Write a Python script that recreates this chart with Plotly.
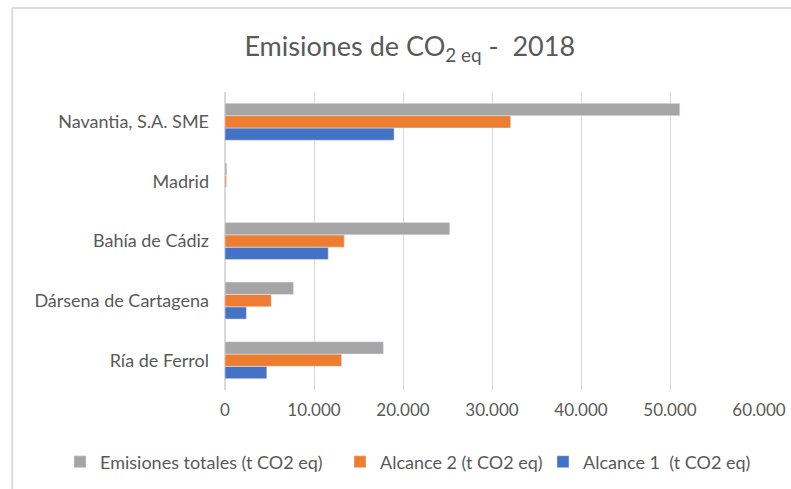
import plotly.graph_objects as go

categories = ["Ría de Ferrol", "Dársena de Cartagena", "Bahía de Cádiz", "Madrid", "Navantia, S.A. SME"]
alcance1 = [4700, 2400, 11600, 30, 19000]
alcance2 = [13100, 5200, 13400, 150, 32100]
totales = [17800, 7700, 25250, 200, 51100]
tick_vals = [0, 10000, 20000, 30000, 40000, 50000, 60000]
tick_text = ["0", "10.000", "20.000", "30.000", "40.000", "50.000", "60.000"]

FONT = "Lato"
GREY_TXT = "#595959"

fig = go.Figure()
fig.add_trace(go.Bar(y=categories, x=alcance1, orientation="h", name="Alcance 1  (t CO2 eq)",
                     marker=dict(color="#4472C4"), legend="legend3"))
fig.add_trace(go.Bar(y=categories, x=alcance2, orientation="h", name="Alcance 2 (t CO2 eq)",
                     marker=dict(color="#ED7D31"), legend="legend2"))
fig.add_trace(go.Bar(y=categories, x=totales, orientation="h", name="Emisiones totales (t CO2 eq)",
                     marker=dict(color="#A5A5A5"), legend="legend"))

def leg(xpx):
    return dict(orientation="h", xref="container", x=xpx / 791, xanchor="left",
                y=-0.2416, yanchor="middle", font=dict(size=18, color=GREY_TXT),
                itemwidth=30, bgcolor="rgba(0,0,0,0)")

fig.update_layout(
    width=791, height=489,
    margin=dict(l=225, r=32, t=92, b=99, autoexpand=False),
    paper_bgcolor="white", plot_bgcolor="white",
    barmode="group", bargap=0.38, bargroupgap=0,
    font=dict(family=FONT, color=GREY_TXT, size=17),
    title=dict(text="Emisiones de CO<sub>2 eq</sub> -  2018", x=0.518, xanchor="center",
               y=0.905, yanchor="middle", font=dict(size=27, color=GREY_TXT, family=FONT)),
    xaxis=dict(range=[0, 60000], tickvals=tick_vals, ticktext=tick_text, showgrid=True,
               gridcolor="#D9D9D9", gridwidth=1, zeroline=True, zerolinecolor="#D9D9D9",
               showline=False, ticks="", ticklabelstandoff=8,
               tickfont=dict(size=17, color=GREY_TXT), fixedrange=True),
    yaxis=dict(showgrid=False, showline=False, ticks="", ticklabelstandoff=15,
               tickfont=dict(size=18, color=GREY_TXT), fixedrange=True),
    legend=leg(60), legend2=leg(340), legend3=leg(543),
    showlegend=True,
)
fig.add_shape(type="line", xref="paper", yref="paper", x0=-0.3985, x1=-0.3985, y0=1.282, y1=-0.5,
              line=dict(color="#DDDDDD", width=2))
fig.add_shape(type="line", xref="paper", yref="paper", x0=-0.3985, x1=1.2, y0=1.282, y1=1.282,
              line=dict(color="#DDDDDD", width=2))

fig.write_html("out.html", config={"displayModeBar": False},
               post_script="document.body.style.margin='0';")
